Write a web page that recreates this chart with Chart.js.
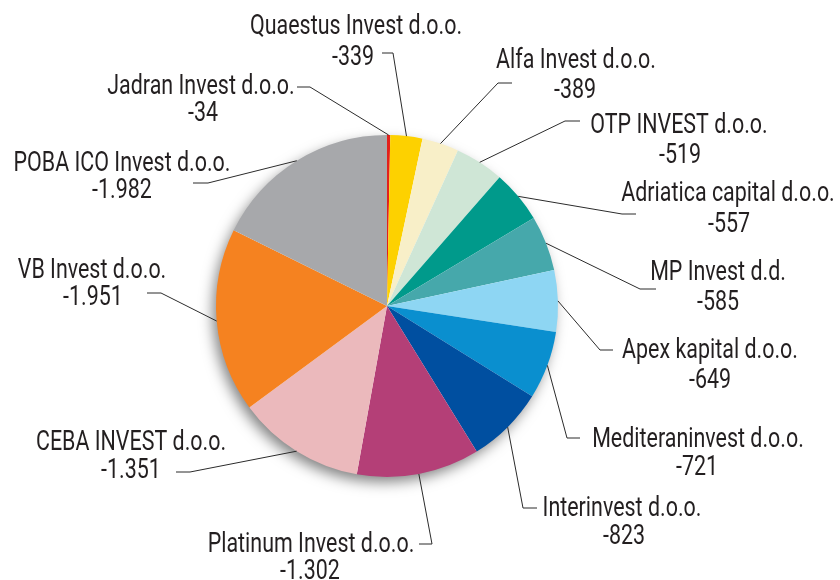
<!DOCTYPE html>
<html>
<head>
<meta charset="utf-8">
<script src="https://cdn.jsdelivr.net/npm/chart.js@4.4.0/dist/chart.umd.min.js"></script>
<style>
  html, body { margin: 0; padding: 0; background: #ffffff; }
  #wrap { width: 840px; height: 580px; }
</style>
</head>
<body>
<div id="wrap"><canvas id="pieChart" width="840" height="580"></canvas></div>
<script>
// Données du graphique
const companies = [
    'Jadran Invest d.o.o.', 'Quaestus Invest d.o.o.', 'Alfa Invest d.o.o.',
    'OTP INVEST d.o.o.', 'Adriatica capital d.o.o.', 'MP Invest d.d.',
    'Apex kapital d.o.o.', 'Mediteraninvest d.o.o.', 'Interinvest d.o.o.',
    'Platinum Invest d.o.o.', 'CEBA INVEST d.o.o.', 'VB Invest d.o.o.',
    'POBA ICO Invest d.o.o.'
];
const results = [-34, -339, -389, -519, -557, -585, -649, -721, -823, -1302, -1351, -1951, -1982];
const sliceColors = [
    '#e3201b', '#fdd100', '#f8efc8', '#cfe6d6', '#009a8b', '#46a8ab',
    '#8ed6f3', '#0a8fcf', '#004fa0', '#b43f77', '#ebb9bc', '#f58220', '#a7a8ab'
];

// Placement des étiquettes (relatif au centre du camembert):
// coude de la ligne, longueur du trait horizontal, centre du nom, centre de la valeur
const labelLayout = [
    { elbow: [-77, -219], stub: -13, name: [-186, -219], value: [-184, -192] },
    { elbow: [6, -253], stub: -11, name: [-31, -279], value: [-34, -248] },
    { elbow: [111, -223], stub: 14, name: [189, -245], value: [188, -215] },
    { elbow: [178, -185], stub: 15, name: [292, -180], value: [293, -150] },
    { elbow: [235, -92], stub: 14, name: [341, -112], value: [342, -81] },
    { elbow: [253, -17], stub: 16, name: [331, -33], value: [331, -3] },
    { elbow: [213, 44], stub: 13, name: [323, 45], value: [323, 75] },
    { elbow: [180, 132], stub: 13, name: [311, 134], value: [310, 162] },
    { elbow: [136, 202], stub: 14, name: [235, 203], value: [237, 231] },
    { elbow: [45, 238], stub: -13, name: [-76, 239], value: [-77, 266] },
    { elbow: [-197, 166], stub: -14, name: [-256, 137], value: [-256, 165] },
    { elbow: [-226, -13], stub: -14, name: [-295, -35], value: [-294, -8] },
    { elbow: [-179, -123], stub: -15, name: [-265, -142], value: [-265, -115] }
];

const FONT = '27px "Roboto", "DejaVu Sans Condensed", sans-serif';
// police étroite simulée : largeur de référence pour "POBA ICO Invest d.o.o."
const REF_TEXT = 'POBA ICO Invest d.o.o.';
const REF_WIDTH = 217;

function formatValue(v) {
    const abs = Math.abs(v).toString().replace(/\B(?=(\d{3})+(?!\d))/g, '.');
    return (v < 0 ? '-' : '') + abs;
}

// Ombre portée sous le camembert
const pieShadow = {
    id: 'pieShadow',
    beforeDatasetsDraw(chart) {
        const arc = chart.getDatasetMeta(0).data[0];
        if (!arc) return;
        const { x, y, outerRadius } = arc.getProps(['x', 'y', 'outerRadius'], true);
        const ctx = chart.ctx;
        ctx.save();
        ctx.shadowColor = 'rgba(0, 0, 0, 0.5)';
        ctx.shadowBlur = 14;
        ctx.shadowOffsetX = -4;
        ctx.shadowOffsetY = 6;
        ctx.beginPath();
        ctx.arc(x, y, outerRadius - 1, 0, Math.PI * 2);
        ctx.fillStyle = '#ffffff';
        ctx.fill();
        ctx.restore();
    }
};

function drawNarrowText(ctx, text, x, y, sx) {
    ctx.save();
    ctx.translate(x, y);
    ctx.scale(sx, 1);
    ctx.fillText(text, 0, 0);
    ctx.restore();
}

// Étiquettes avec lignes de rappel
const leaderLabels = {
    id: 'leaderLabels',
    afterDatasetsDraw(chart) {
        const ctx = chart.ctx;
        const meta = chart.getDatasetMeta(0);
        ctx.save();
        ctx.font = FONT;
        const sx = REF_WIDTH / ctx.measureText(REF_TEXT).width;
        meta.data.forEach((arc, i) => {
            const p = arc.getProps(['x', 'y', 'startAngle', 'endAngle', 'outerRadius'], true);
            const mid = (p.startAngle + p.endAngle) / 2;
            const startX = p.x + Math.cos(mid) * p.outerRadius;
            const startY = p.y + Math.sin(mid) * p.outerRadius;
            const lay = labelLayout[i];
            const ex = p.x + lay.elbow[0];
            const ey = p.y + lay.elbow[1];

            ctx.strokeStyle = '#2b2b2b';
            ctx.lineWidth = 1;
            ctx.beginPath();
            ctx.moveTo(startX, startY);
            ctx.lineTo(ex, ey);
            ctx.lineTo(ex + lay.stub, ey);
            ctx.stroke();

            ctx.fillStyle = '#231f20';
            ctx.font = FONT;
            ctx.textAlign = 'center';
            ctx.textBaseline = 'middle';
            drawNarrowText(ctx, companies[i], p.x + lay.name[0], p.y + lay.name[1], sx);
            drawNarrowText(ctx, formatValue(results[i]), p.x + lay.value[0], p.y + lay.value[1], sx);
        });
        ctx.restore();
    }
};

new Chart(document.getElementById('pieChart').getContext('2d'), {
    type: 'pie',
    data: {
        labels: companies,
        datasets: [{
            data: results.map(v => Math.abs(v)),
            backgroundColor: sliceColors,
            borderWidth: 0
        }]
    },
    options: {
        responsive: false,
        animation: false,
        layout: {
            padding: { left: 216, right: 282, top: 135, bottom: 103 }
        },
        plugins: {
            legend: { display: false },
            tooltip: { enabled: false }
        }
    },
    plugins: [pieShadow, leaderLabels]
});
</script>
</body>
</html>
